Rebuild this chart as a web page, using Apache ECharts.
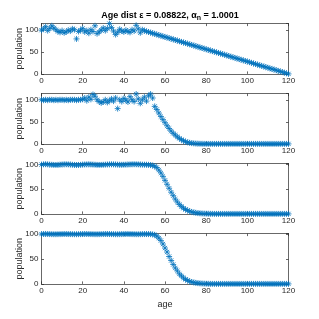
<!DOCTYPE html>
<html><head><meta charset="utf-8">
<script src="https://cdn.jsdelivr.net/npm/echarts@6/dist/echarts.min.js"></script>
<style>html,body{margin:0;padding:0;background:#fff}#c{width:319px;height:319px}</style>
</head><body><div id="c"></div>
<script>
const ages = Array.from({length:121},(_,i)=>i);
const xTicks = [0,20,40,60,80,100,120];
const yTicks = [0,50,100];
const yMax = [115,114,102,101];

const pop1 = [100,103,108,99,104,110,105,101,97,95,99,94,96,100,98,103,101,80,97,100,
104,96,99,93,101,97,110,92,96,100,105,99,104,115,106,98,90,95,102,98,
96,100,97,95,101,98,111,103,94,101,
98.6,97.2,95.8,94.4,93.0,91.5,90.1,88.7,87.3,85.9,84.5,83.1,81.7,80.3,78.9,77.5,76.1,74.6,73.2,71.8,
70.4,69.0,67.6,66.2,64.8,63.4,62.0,60.6,59.2,57.7,56.3,54.9,53.5,52.1,50.7,49.3,47.9,46.5,45.1,43.7,
42.3,40.8,39.4,38.0,36.6,35.2,33.8,32.4,31.0,29.6,28.2,26.8,25.4,23.9,22.5,21.1,19.7,18.3,16.9,15.5,
14.1,12.7,11.3,9.9,8.5,7.0,5.6,4.2,2.8,1.4,0.0];

const pop2 = [100,99,100,99,100,100,99,100,99,100,100,99,100,99,100,100,100,99,100,100,101,
104,98,106,101,112,108,100,96,93,95,100,94,98,102,97,104,80,100,96,103,
99,95,107,100,96,113,102,92,100,106,97,109,113,104,85,
78,70,62,55,48,41,35,29,24,20,16,12.5,9.5,7,5,3.5,2.5,1.7,1.2,0.8,0.5,0.3,0.2,0.1,
0,0,0,0,0,0,0,0,0,0,0,0,0,0,0,0,0,0,0,0,0,0,0,0,0,0,0,0,0,0,0,0,0,0,0,0,0,0,0,0,0];

const pop3 = [100,100.5,100.8,100.5,100,99.6,99.3,99.2,99.4,99.8,100.2,100.5,100.6,100.4,100,99.6,99.3,99.1,99.2,99.5,
99.9,100.2,100.4,100.5,100.3,100,99.7,99.4,99.3,99.4,99.6,99.9,100.2,100.4,100.5,100.4,100.2,99.9,99.7,99.6,
99.7,99.9,100.2,100.4,100.6,100.7,100.6,100.4,100.1,99.9,99.8,99.7,99.5,
99.0,98.2,97,94,89,83,76,68,60,52,44,37,30,24,19,15,11.5,9,7,5.3,4,3,2.2,1.6,1.2,0.9,0.6,0.4,0.3,0.2,0.1,
0,0,0,0,0,0,0,0,0,0,0,0,0,0,0,0,0,0,0,0,0,0,0,0,0,0,0,0,0,0,0,0,0,0,0,0,0];

const pop4 = [100,100.2,100.3,100.2,100,99.9,99.8,99.8,99.9,100,100.1,100.2,100.2,100.1,100,99.9,99.8,99.8,99.9,100,
100.1,100.2,100.2,100.1,100,99.9,99.8,99.8,99.9,100,100.1,100.2,100.2,100.1,100,99.9,99.8,99.8,99.9,100,
100.1,100.2,100.2,100.1,100,99.9,99.8,99.8,99.9,100,100.1,100.1,100,99.9,
99.5,98.5,96,92,87,80,72,64,55,47,39,32,26,20,16,12,9,7,5,3.8,2.8,2,1.5,1.1,0.8,0.5,0.3,0.2,0.1,
0,0,0,0,0,0,0,0,0,0,0,0,0,0,0,0,0,0,0,0,0,0,0,0,0,0,0,0,0,0,0,0,0,0,0,0,0,0];

const pops = [pop1,pop2,pop3,pop4];
const tops = [23.6,93.6,163.6,233.6];
const AX = '#262626';
const FONT = 'Liberation Sans';
const star = 'path://M0,-10L0,10M-10,0L10,0M-7.07,-7.07L7.07,7.07M-7.07,7.07L7.07,-7.07';

const grids=[], xAxes=[], yAxes=[], series=[];
pops.forEach((p,k)=>{
  grids.push({left:41.5, width:247, top:tops[k], height:50.3});
  const common = {min:0, axisLine:{show:true,onZero:false,lineStyle:{color:AX,width:0.7}},
    axisTick:{show:true,inside:true,length:2.5,lineStyle:{color:AX,width:0.7}},
    splitLine:{show:false}};
  xAxes.push(Object.assign({type:'value',gridIndex:k,position:'bottom',max:120,interval:20,
    axisLabel:{show:true,color:AX,fontSize:8,fontFamily:FONT,margin:3},
    name: k===3?'age':'', nameLocation:'middle', nameGap:16, nameMoveOverlap:false,
    nameTextStyle:{color:AX,fontSize:9,fontFamily:FONT}}, JSON.parse(JSON.stringify(common))));
  xAxes.push(Object.assign({type:'value',gridIndex:k,position:'top',max:120,interval:20,
    axisLabel:{show:false}}, JSON.parse(JSON.stringify(common))));
  yAxes.push(Object.assign({type:'value',gridIndex:k,position:'left',max:yMax[k],interval:50,
    axisLabel:{show:true,color:AX,fontSize:8,fontFamily:FONT,margin:3,showMaxLabel:false},
    name:'population', nameLocation:'middle', nameGap:17, nameRotate:90, nameMoveOverlap:false,
    nameTextStyle:{color:AX,fontSize:9,fontFamily:FONT}}, JSON.parse(JSON.stringify(common))));
  yAxes.push(Object.assign({type:'value',gridIndex:k,position:'right',max:yMax[k],interval:50,
    axisLabel:{show:false}}, JSON.parse(JSON.stringify(common))));
  series.push({type:'scatter', xAxisIndex:2*k, yAxisIndex:2*k,
    data: ages.map((a,i)=>[a,p[i]]), symbol:star, symbolSize:6,
    itemStyle:{color:'rgba(0,0,0,0)', borderColor:'#0072BD', borderWidth:1},
    emphasis:{disabled:true}, silent:true, animation:false});
});

const chart = echarts.init(document.getElementById('c'), null, {renderer:'canvas'});
chart.setOption({
  animation:false,
  backgroundColor:'#fff',
  title:{text:'{b|Age dist ε = 0.08822, α}{s|n}{b| = 1.0001}', left:165, top:5, textAlign:'center',
    textStyle:{rich:{b:{fontSize:9,fontWeight:'bold',fontFamily:FONT,color:'#000'},
      s:{fontSize:7,fontWeight:'bold',fontFamily:FONT,color:'#000',padding:[5,0,0,0]}}}},
  grid:grids, xAxis:xAxes, yAxis:yAxes, series:series
});
</script></body></html>
